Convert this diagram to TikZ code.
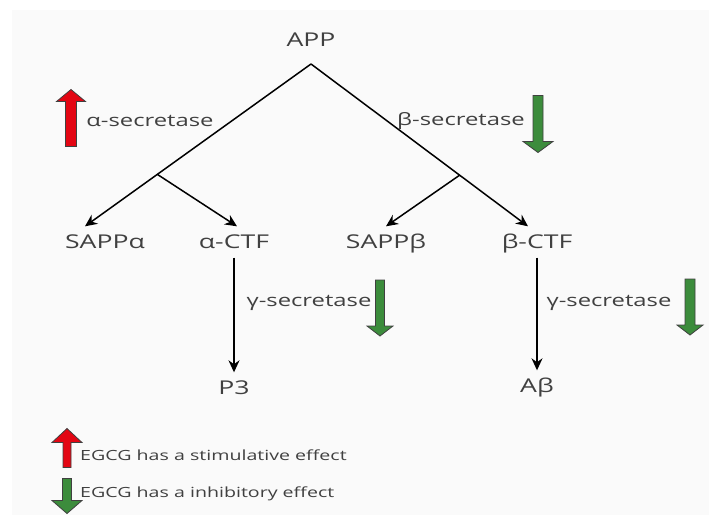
\documentclass[tikz,border=0pt]{standalone}
\usepackage{fontspec}
\setmainfont{Open Sans}[FakeStretch=1.4]
\usepackage{tikz}
\usetikzlibrary{calc}
\usetikzlibrary{arrows.meta}
\definecolor{txtgray}{HTML}{404040}
\definecolor{upred}{HTML}{E30613}
\definecolor{dngreen}{HTML}{3C8C3C}
\tikzset{mol/.style={font=\fontsize{19}{22}\selectfont,text=txtgray,inner xsep=2pt,inner ysep=8pt,text height=14pt,text depth=1pt}}
\tikzset{enz/.style={font=\fontsize{17}{20}\selectfont,text=txtgray,inner sep=1pt}}
\tikzset{leg/.style={font=\fontsize{14}{17}\selectfont,text=txtgray,anchor=west,inner sep=0pt}}
\tikzset{cut/.style={line width=1.5pt,-{Stealth[length=12pt,width=11pt]}}}
\tikzset{stim/.style={fill=upred,draw=black!75,line width=0.8pt}}
\tikzset{inhib/.style={fill=dngreen,draw=black!75,line width=0.8pt,rotate=180}}
\tikzset{pics/blockarr/.style n args={4}{code={
  \filldraw ({0},{-#1/2}) -- ({#4},{-#1/2+#2}) -- ({#3},{-#1/2+#2}) -- ({#3},{#1/2})
    -- ({-#3},{#1/2}) -- ({-#3},{-#1/2+#2}) -- ({-#4},{-#1/2+#2}) -- cycle;
}}}

\begin{document}
\begin{tikzpicture}[x=1pt,y=-1pt]
\useasboundingbox (0,0) rectangle (709,515);
\fill[black!2] (12,10) rectangle (709,515);

% molecules
\node[mol] (APP) at (311,40) {APP};
\coordinate (top) at (311,64);
\node[mol] (SAPPa) at (105,242) {SAPPα};
\node[mol] (aCTF) at (234,242) {α-CTF};
\node[mol] (SAPPb) at (386,242) {SAPPβ};
\node[mol] (bCTF) at (537,242) {β-CTF};
\node[mol] (P3) at (234,388) {P3};
\node[mol] (Ab) at (537,386) {Aβ};

% cleavage paths
\draw[cut] (top) -- ([xshift=-20pt]SAPPa.north) coordinate[pos=0.68] (jL);
\draw[cut] (jL) -- ([xshift=3pt]aCTF.north);
\draw[cut] (top) -- ([xshift=-9pt]bCTF.north) coordinate[pos=0.685] (jR);
\draw[cut] (jR) -- (SAPPb.north);
\draw[cut] (aCTF.south) -- (P3.north);
\draw[cut] (bCTF.south) -- (Ab.north);

% enzymes
\node[enz] (asec) at (150,121) {α-secretase};
\node[enz] (bsec) at (461,121) {β-secretase};
\node[enz] (gsecA) at (309,303) {γ-secretase};
\node[enz] (gsecB) at (609,303) {γ-secretase};

% EGCG effects
\pic[stim] at (71,118) {blockarr={57}{12}{5.5}{14.5}};
\pic[inhib] at (538,124) {blockarr={57}{11}{5}{15}};
\pic[inhib] at (380,308) {blockarr={56}{10}{4.5}{13}};
\pic[inhib] at (690,307) {blockarr={56}{10}{5}{13}};

% legend
\pic[stim] at (67,448) {blockarr={39}{14}{4}{15}};
\pic[inhib] at (67,496) {blockarr={35}{13}{4.5}{15}};
\node[leg] (legS) at (80,455) {EGCG has a stimulative effect};
\node[leg] (legI) at (80,494) {EGCG has a inhibitory effect};
\end{tikzpicture}
\end{document}
